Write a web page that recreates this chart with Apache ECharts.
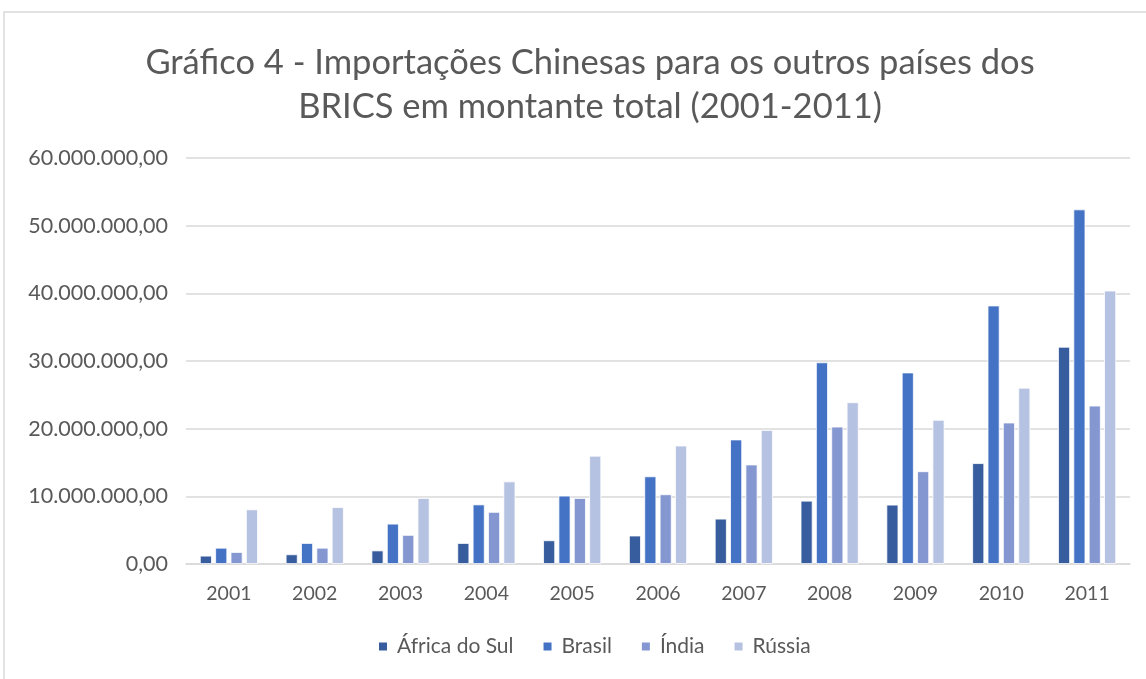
<!DOCTYPE html>
<html>
<head>
<meta charset="utf-8">
<script src="https://cdn.jsdelivr.net/npm/echarts@6/dist/echarts.min.js"></script>
<style>
  html, body { margin: 0; padding: 0; background: #fff; }
  #chart { width: 1146px; height: 679px; }
</style>
</head>
<body>
<div id="chart"></div>
<script>
// anos
var anos = ['2001', '2002', '2003', '2004', '2005', '2006', '2007', '2008', '2009', '2010', '2011'];
// valores
var africaDoSul = [1230000, 1430000, 2000000, 3100000, 3500000, 4200000, 6700000, 9350000, 8770000, 14900000, 32100000];
var brasil = [2400000, 3100000, 5960000, 8800000, 10100000, 12950000, 18400000, 29800000, 28300000, 38200000, 52400000];
var india = [1770000, 2400000, 4300000, 7700000, 9750000, 10300000, 14700000, 20300000, 13700000, 20900000, 23400000];
var russia = [8070000, 8400000, 9750000, 12200000, 16000000, 17500000, 19800000, 23900000, 21300000, 26050000, 40400000];

var fonte = 'Lato, "Open Sans", sans-serif';

// formato 60.000.000,00
function formatar(v) {
  var s = Math.round(v).toString().replace(/\B(?=(\d{3})+(?!\d))/g, '.');
  return s + ',00';
}

function serie(nome, dados, cor) {
  return {
    name: nome,
    type: 'bar',
    data: dados,
    barWidth: 12,
    barGap: '28%',
    itemStyle: { color: cor, borderColor: '#ffffff', borderWidth: 0.8 }
  };
}

var myChart = echarts.init(document.getElementById('chart'));
myChart.setOption({
  animation: false,
  title: {
    text: 'Gráfico 4 - Importações Chinesas para os outros países dos\nBRICS em montante total (2001-2011)',
    left: 585,
    top: 36,
    textAlign: 'center',
    textStyle: {
      fontFamily: fonte,
      fontSize: 34.5,
      fontWeight: 'normal',
      color: '#595959',
      lineHeight: 44
    }
  },
  legend: {
    bottom: 17,
    left: 372,
    itemWidth: 10,
    itemHeight: 10,
    itemGap: 28,
    icon: 'rect',
    textStyle: { fontFamily: fonte, fontSize: 21, color: '#595959', padding: [0, 0, 0, 4] },
    data: ['África do Sul', 'Brasil', 'Índia', 'Rússia']
  },
  grid: { left: 186, right: 16, top: 158, bottom: 115 },
  xAxis: {
    type: 'category',
    data: anos,
    axisLine: { lineStyle: { color: '#d9d9d9', width: 1.5 } },
    axisTick: { show: false },
    axisLabel: { fontFamily: fonte, fontSize: 19.5, color: '#595959', margin: 20 }
  },
  yAxis: {
    type: 'value',
    min: 0,
    max: 60000000,
    interval: 10000000,
    axisLine: { show: false },
    axisTick: { show: false },
    splitLine: { lineStyle: { color: '#d9d9d9', width: 1.5 } },
    axisLabel: { fontFamily: fonte, fontSize: 21.5, color: '#595959', margin: 18, formatter: formatar }
  },
  graphic: [{
    type: 'rect',
    shape: { x: 4, y: 12, width: 1160, height: 700 },
    style: { fill: 'none', stroke: '#d9d9d9', lineWidth: 1.5 },
    silent: true
  }],
  series: [
    serie('África do Sul', africaDoSul, '#385D9E'),
    serie('Brasil', brasil, '#4472C4'),
    serie('Índia', india, '#8497D1'),
    serie('Rússia', russia, '#B6C2E1')
  ]
});
</script>
</body>
</html>
